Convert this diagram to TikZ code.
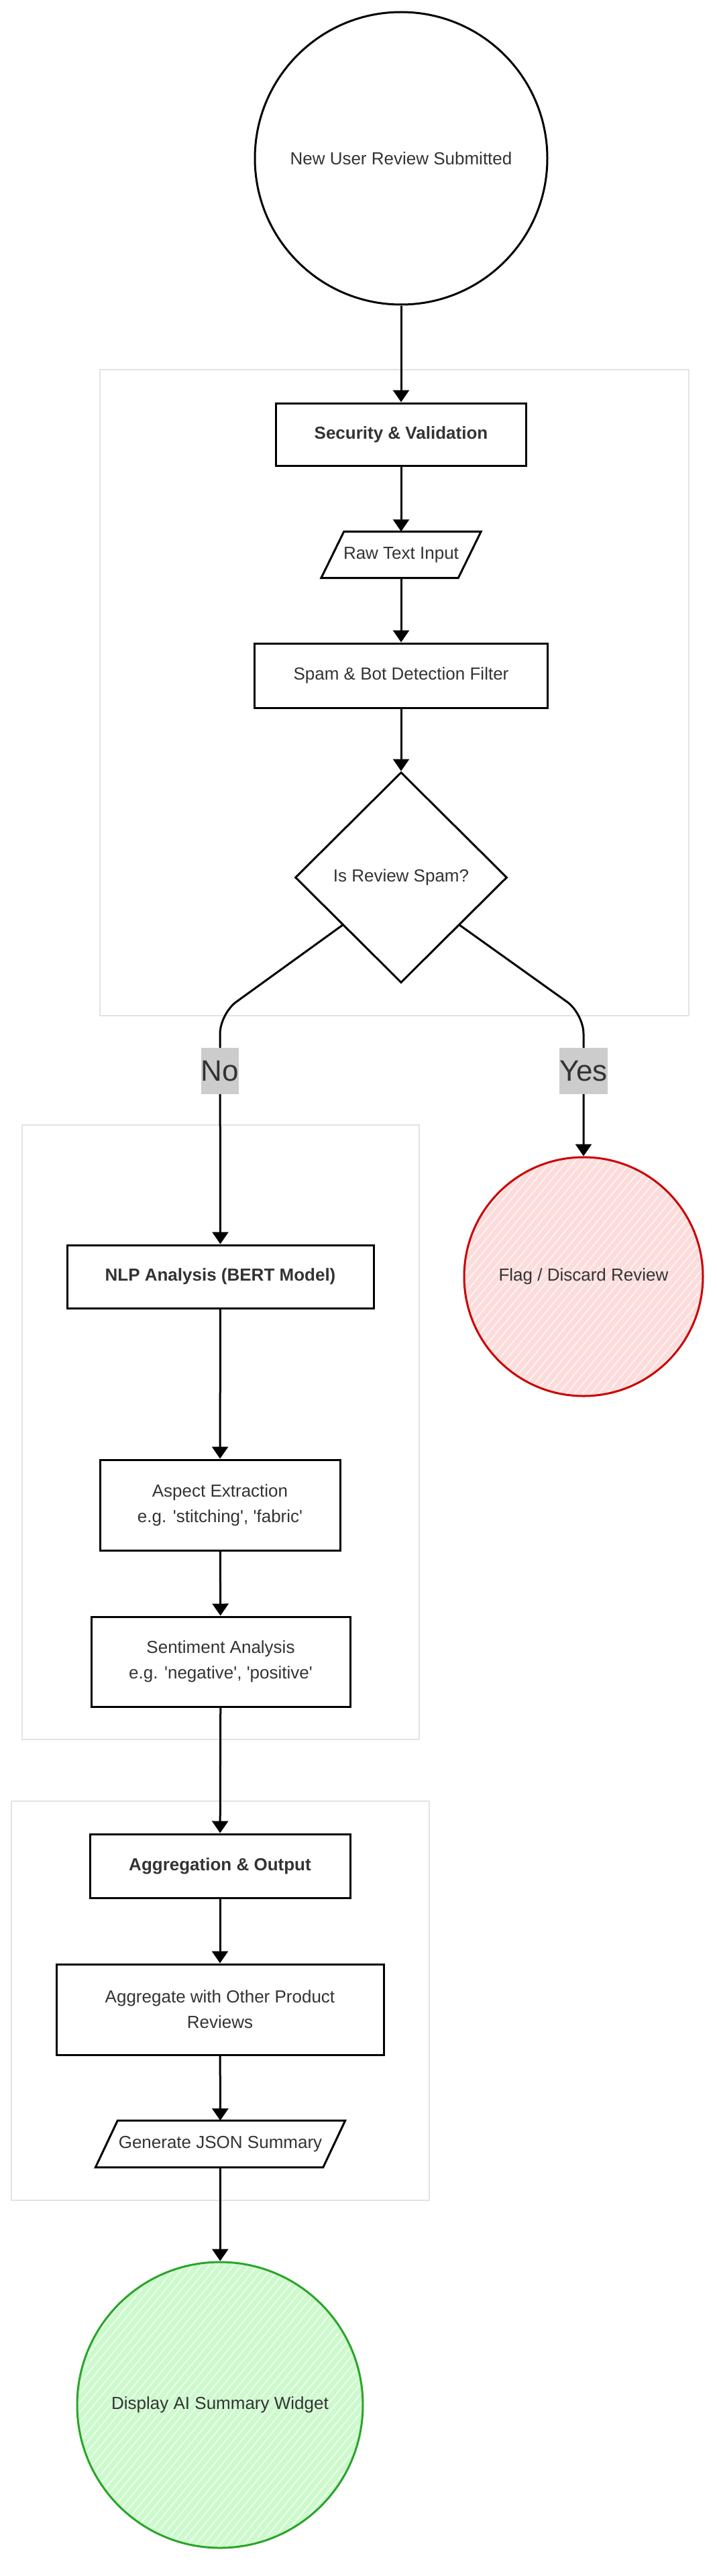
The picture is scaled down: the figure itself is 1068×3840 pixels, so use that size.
\documentclass[tikz,border=0pt]{standalone}
\usepackage{fontspec}
\setmainfont{Liberation Sans}
\usetikzlibrary{arrows.meta,shapes.geometric,calc}
\definecolor{txt}{HTML}{333333}
\definecolor{grpc}{HTML}{E3E3E3}
\definecolor{lblc}{HTML}{CCCCCC}
\definecolor{redS}{HTML}{CC0000}
\definecolor{redF}{HTML}{FDDCDC}
\definecolor{grnS}{HTML}{2AA52A}
\definecolor{grnF}{HTML}{CCFACC}
\newcommand{\sq}{\textquotesingle}
\begin{document}
\begin{tikzpicture}[x=1pt,y=-1pt,
  every node/.style={font=\fontsize{26}{38}\selectfont, text=txt, align=center, inner sep=0pt},
  box/.style={draw=black, line width=3pt, fill=white},
  boldtxt/.style={font=\fontsize{26}{38}\selectfont\bfseries},
  grpbox/.style={draw=grpc, line width=2.5pt},
  arr/.style={draw=black, line width=3pt, -{Triangle[width=24pt,length=18pt]}},
  lab/.style={fill=lblc, font=\fontsize{44}{44}\selectfont, minimum height=69pt, text=txt},
  hatch/.style={white, line width=1.6pt, opacity=0.75},
]
\useasboundingbox (0,0) rectangle (1068,3840);
% groups
\node[grpbox, minimum width=878pt, minimum height=963pt] (g1) at (588,1032.5) {};
\node[grpbox, minimum width=592pt, minimum height=916pt] (g2) at (329,2135) {};
\node[grpbox, minimum width=623pt, minimum height=595pt] (g3) at (328.5,2982.5) {};

% nodes
\node[circle, box, minimum size=436pt] (start) at (598,236) {New User Review Submitted};
\node[box, boldtxt, minimum width=373pt, minimum height=93pt] (sec) at (598,647.5) {Security \& Validation};
\node[minimum width=204pt, minimum height=69pt] (raw) at (598,827) {};
\draw[black, line width=3pt, fill=white, line join=miter]
  ([xshift=-17pt]raw.south west) -- ([xshift=17pt]raw.north west) -- ([xshift=17pt]raw.north east) -- ([xshift=-17pt]raw.south east) -- cycle;
\node at (raw) {Raw Text Input};
\node[box, minimum width=437pt, minimum height=96pt] (spam) at (598,1007) {Spam \& Bot Detection Filter};
\node[diamond, box, minimum width=316pt, minimum height=314pt] (dia) at (598,1308) {Is Review Spam?};

\node[box, boldtxt, minimum width=457pt, minimum height=94pt] (nlp) at (328.5,1903) {NLP Analysis (BERT Model)};
\node[circle, draw=redS, line width=3pt, fill=redF, minimum size=356pt] (flag) at (870,1903) {};
\begin{scope}
  \clip (flag.center) circle (176pt);
  \foreach \k in {-420,-408,...,420} \draw[hatch] ($(flag.center)+(\k,0)+(-200,240)$) -- ++(400,-480);
\end{scope}
\node at (flag) {Flag / Discard Review};
\node[box, minimum width=358pt, minimum height=135pt] (asp) at (328,2243.5) {Aspect Extraction\\e.g. \sq stitching\sq, \sq fabric\sq};
\node[box, minimum width=386pt, minimum height=134pt] (sent) at (329,2477) {Sentiment Analysis\\e.g. \sq negative\sq, \sq positive\sq};

\node[box, boldtxt, minimum width=388pt, minimum height=95pt] (aggo) at (328,2781.5) {Aggregation \& Output};
\node[box, minimum width=488pt, minimum height=135pt] (aggw) at (328,2995.5) {Aggregate with Other Product\\Reviews};
\node[minimum width=339pt, minimum height=69.5pt] (json) at (328.5,3196) {};
\draw[black, line width=3pt, fill=white, line join=miter]
  ([xshift=-16.5pt]json.south west) -- ([xshift=16.5pt]json.north west) -- ([xshift=16.5pt]json.north east) -- ([xshift=-16.5pt]json.south east) -- cycle;
\node at (json) {Generate JSON Summary};
\node[circle, draw=grnS, line width=3pt, fill=grnF, minimum size=426pt] (disp) at (328,3585) {};
\begin{scope}
  \clip (disp.center) circle (211pt);
  \foreach \k in {-500,-488,...,500} \draw[hatch] ($(disp.center)+(\k,0)+(-240,290)$) -- ++(480,-580);
\end{scope}
\node at (disp) {Display AI Summary Widget};

% connectors
\draw[arr] (start) -- (sec);
\draw[arr] (sec) -- (raw);
\draw[arr] (raw) -- (spam);
\draw[arr] (spam) -- (dia);
\coordinate (nocorner) at (328,1511);
\coordinate (yescorner) at (870,1511);
\draw[arr, rounded corners=30pt] ($(dia.west)!0.45!(dia.south)$) -- (nocorner) -- (nlp.north);
\draw[arr, rounded corners=30pt] ($(dia.east)!0.45!(dia.south)$) -- (yescorner) -- (flag.north);
\node[lab] (nolab) at (328,1596.5) {No};
\node[lab] (yeslab) at (870,1596.5) {Yes};
\draw[arr] (nlp) -- (asp);
\draw[arr] (asp) -- (sent);
\draw[arr] (sent) -- (aggo);
\draw[arr] (aggo) -- (aggw);
\draw[arr] (aggw) -- (json);
\draw[arr] (json) -- (disp);
\end{tikzpicture}
\end{document}
